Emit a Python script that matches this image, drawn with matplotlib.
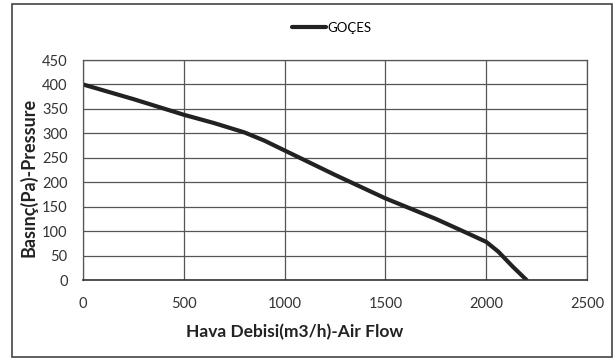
import matplotlib.pyplot as plt
from matplotlib.patches import Rectangle

# Fan curve: air flow (m3/h) vs static pressure (Pa)
airflow = [0, 250, 500, 650, 800, 900, 1000, 1250, 1500, 1750, 1900, 2000, 2060, 2130, 2200]
pressure = [400, 370, 338, 321, 302, 285, 265, 215, 167, 125, 97, 78, 58, 28, 0]
series_name = "GOÇES"

x_ticks = [0, 500, 1000, 1500, 2000, 2500]
y_ticks = [0, 50, 100, 150, 200, 250, 300, 350, 400, 450]

plt.rcParams['font.family'] = ['Lato', 'DejaVu Sans']

fig = plt.figure(figsize=(6.15, 3.58), dpi=100)
ax = fig.add_axes([83 / 615, 1 - 280 / 358, (587 - 83) / 615, (280 - 60) / 358])

ax.plot(airflow, pressure, color='#222222', linewidth=3, label=series_name,
        solid_capstyle='round', solid_joinstyle='round')

ax.set_xlim(0, 2500)
ax.set_ylim(0, 450)
ax.set_xticks(x_ticks)
ax.set_yticks(y_ticks)
ax.tick_params(length=0, labelsize=10.5, colors='#333333')
ax.tick_params(axis='y', pad=11)
ax.tick_params(axis='x', pad=12)
ax.grid(True, color='#555555', linewidth=0.9)
ax.set_axisbelow(True)
for s in ['top', 'right', 'left']:
    ax.spines[s].set_color('#555555')
    ax.spines[s].set_linewidth(0.9)
ax.spines['bottom'].set_color('#333333')
ax.spines['bottom'].set_linewidth(1.2)

ax.set_xlabel("Hava Debisi(m3/h)-Air Flow", fontsize=12.5, fontweight='bold',
              color='#222222')
ax.xaxis.set_label_coords((295 - 83) / 504, -0.2)
ax.set_ylabel("Basınç(Pa)-Pressure", fontsize=13, fontweight='bold',
              color='#222222')
ax.yaxis.set_label_coords(-0.09, 0.465)

leg = fig.legend(loc='center', bbox_to_anchor=(332 / 615, 1 - 28 / 358),
                 frameon=False, fontsize=9.5, handlelength=2.6, handletextpad=0.1)

# outer chart border
fig.patches.append(Rectangle((12 / 615, 0.003), 600 / 615, 1 - 4 / 358 - 0.003,
                             transform=fig.transFigure, fill=False,
                             edgecolor='#444444', linewidth=1.2))

fig.savefig("out.png", dpi=100)
